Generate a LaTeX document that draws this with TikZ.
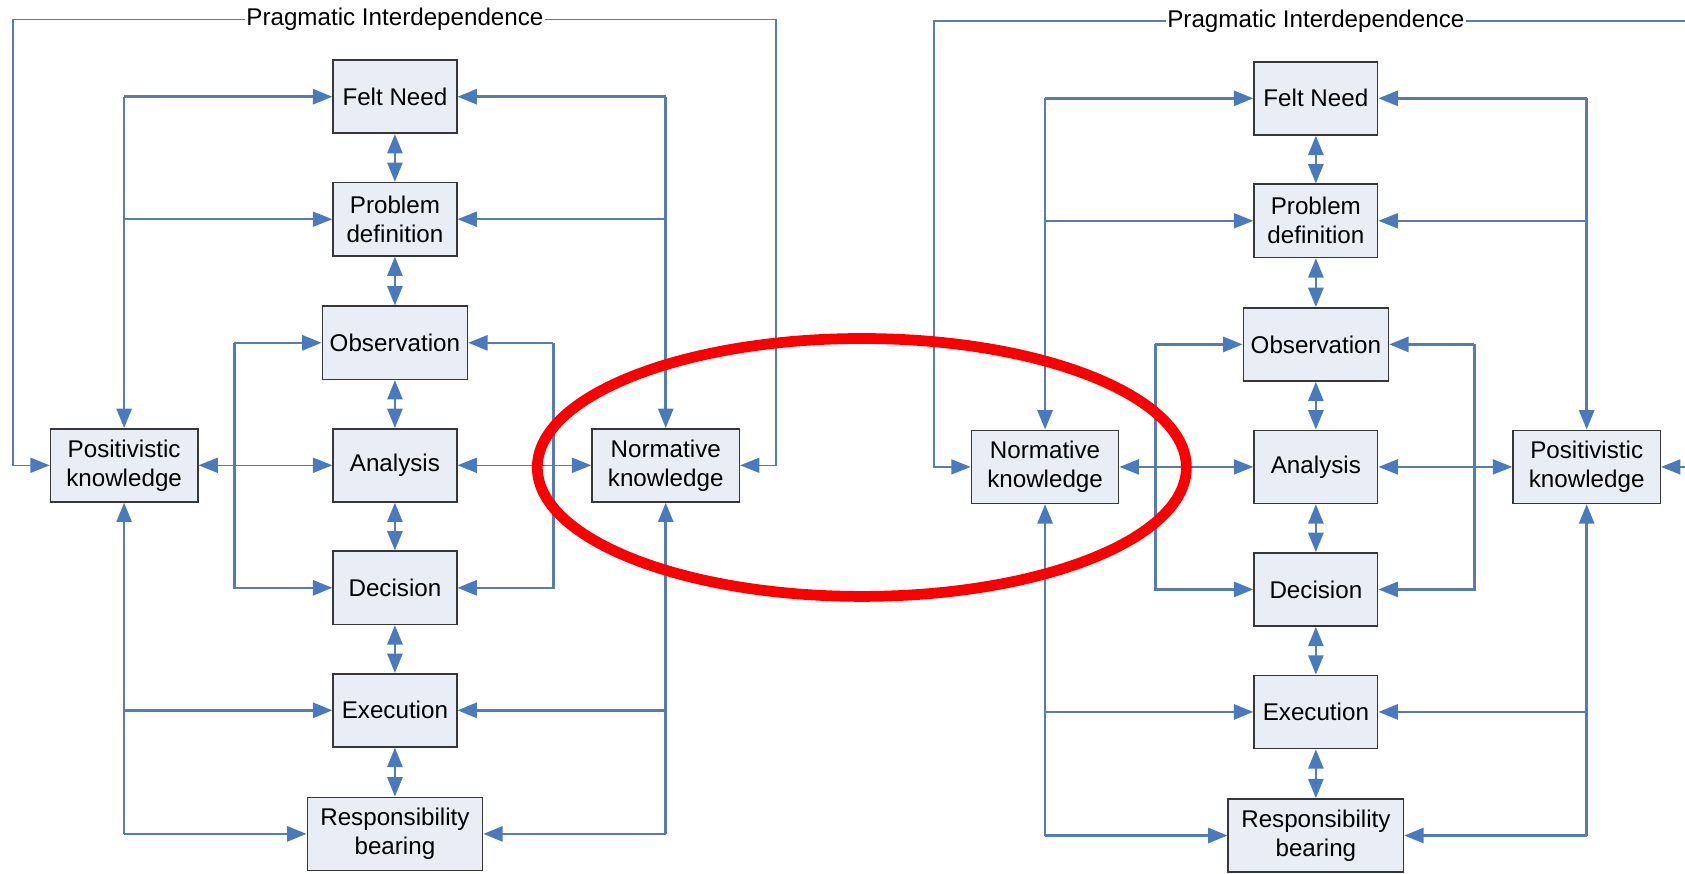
\documentclass[tikz,border=0pt]{standalone}
\usepackage{fontspec}
\setmainfont{Liberation Sans}
\usetikzlibrary{arrows.meta,calc}
\definecolor{ln}{RGB}{86,124,182}
\definecolor{ahc}{RGB}{74,122,190}
\definecolor{bx}{RGB}{233,238,246}
\definecolor{bd}{RGB}{55,55,55}
\definecolor{rd}{RGB}{250,0,0}
\tikzset{
  box/.style={draw=bd, fill=bx, line width=1.5pt, minimum height=68pt, inner sep=0pt,
    align=center, font=\fontsize{22.5}{27}\selectfont, text=black},
  lbl/.style={inner sep=1pt, font=\fontsize{22.5}{27}\selectfont, text=black},
  thn/.style={draw=ln, line width=1.4pt},
  thk/.style={draw=ln, line width=2.4pt},
  Tri/.tip={Triangle[length=18pt,width=14pt,color=ahc]},
}
\newcommand\mypanel[5]{%
  \begin{scope}[shift={(#2,#3)}]
    \node[box,minimum width=115pt] (#1fn) at (367.5,90) {Felt Need};
    \node[box,minimum width=115pt] (#1pd) at (367.5,204) {Problem\\definition};
    \node[box,minimum width=135pt] (#1ob) at (367.5,319) {Observation};
    \node[box,minimum width=115pt] (#1an) at (367.5,433) {Analysis};
    \node[box,minimum width=115pt] (#1de) at (367.5,547) {Decision};
    \node[box,minimum width=115pt] (#1ex) at (367.5,661) {Execution};
    \node[box,minimum width=163pt] (#1rb) at (367.5,776) {Responsibility\\bearing};
    \node[box,minimum width=137pt] (#1sl) at (115.5,433) {#4};
    \node[box,minimum width=137pt] (#1sr) at (619.5,433) {#5};
    \node[lbl] (#1lab) at (367.5,18) {Pragmatic Interdependence};
    \coordinate (#1iL) at (218,433);
    \coordinate (#1iR) at (515,433);
    \coordinate (#1oL) at (12,433);
    \coordinate (#1oR) at (722,433);
    % central double arrows
    \draw[thk,Tri-Tri] (#1fn) -- (#1pd);
    \draw[thk,Tri-Tri] (#1pd) -- (#1ob);
    \draw[thk,Tri-Tri] (#1ob) -- (#1an);
    \draw[thk,Tri-Tri] (#1an) -- (#1de);
    \draw[thk,Tri-Tri] (#1de) -- (#1ex);
    \draw[thk,Tri-Tri] (#1ex) -- (#1rb);
    % left column
    \draw[thk,-Tri] (#1fn.west -| #1sl.north) -- (#1fn.west);
    \draw[thk,-Tri] (#1fn.west -| #1sl.north) -- (#1sl.north);
    \draw[thn,-Tri] (#1pd.west -| #1sl.north) -- (#1pd.west);
    \draw[thk,-Tri] (#1rb.west -| #1sl.south) -- (#1sl.south);
    \draw[thk,-Tri] (#1rb.west -| #1sl.south) -- (#1rb.west);
    \draw[thk,-Tri] (#1ex.west -| #1sl.south) -- (#1ex.west);
    % right column
    \draw[thk,-Tri] (#1fn.east -| #1sr.north) -- (#1fn.east);
    \draw[thk,-Tri] (#1fn.east -| #1sr.north) -- (#1sr.north);
    \draw[thn,-Tri] (#1pd.east -| #1sr.north) -- (#1pd.east);
    \draw[thk,-Tri] (#1rb.east -| #1sr.south) -- (#1sr.south);
    \draw[thk,-Tri] (#1rb.east -| #1sr.south) -- (#1rb.east);
    \draw[thk,-Tri] (#1ex.east -| #1sr.south) -- (#1ex.east);
    % inner loops
    \draw[thk,-Tri] (#1ob.west -| #1iL) -- (#1ob.west);
    \draw[thk,-Tri] (#1ob.west -| #1iL) -- (#1de.west -| #1iL) -- (#1de.west);
    \draw[thk,-Tri] (#1ob.east -| #1iR) -- (#1ob.east);
    \draw[thk,-Tri] (#1ob.east -| #1iR) -- (#1de.east -| #1iR) -- (#1de.east);
    \draw[thn,Tri-Tri] (#1sl.east) -- (#1an.west);
    \draw[thn,Tri-Tri] (#1an.east) -- (#1sr.west);
    % outer frame
    \draw[thn,-Tri] (#1lab.west) -| (#1oL) -- (#1sl.west);
    \draw[thn,-Tri] (#1lab.east) -| (#1oR) -- (#1sr.east);
  \end{scope}}
\begin{document}
\begin{tikzpicture}[x=1pt,y=-1pt]
  \path[use as bounding box, clip] (0,0) rectangle (1568,813);
  \fill[white] (0,0) rectangle (1568,813);
  \mypanel{A}{0}{0}{Positivistic\\knowledge}{Normative\\knowledge}
  \mypanel{B}{857}{1.5}{Normative\\knowledge}{Positivistic\\knowledge}
  \draw[rd, line width=10pt] (802,435) ellipse [x radius=302pt, y radius=120pt];
\end{tikzpicture}
\end{document}
